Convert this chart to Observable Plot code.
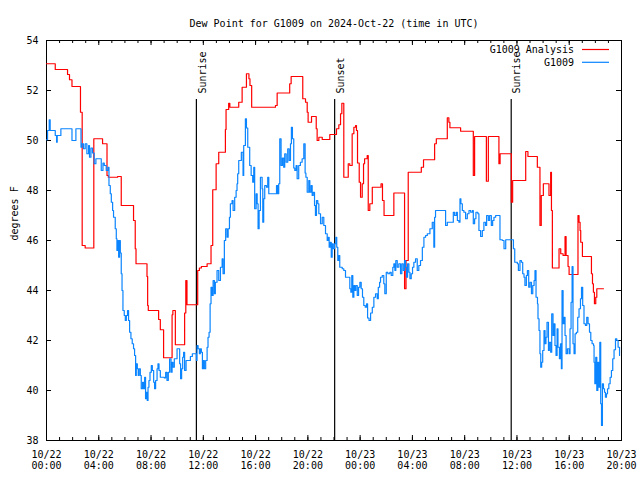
<!DOCTYPE html>
<html><head><meta charset="utf-8">
<script src="https://cdn.jsdelivr.net/npm/d3@7"></script>
<script src="https://cdn.jsdelivr.net/npm/@observablehq/plot@0.6"></script>
<style>body{margin:0;background:#fff} svg{display:block}</style>
</head><body><div id="chart"></div>
<script>
const title = "Dew Point for G1009 on 2024-Oct-22 (time in UTC)";
const yLabel = "degrees F";
const seriesNames = ["G1009 Analysis", "G1009"];
const seriesColors = ["#ff0000", "#0a84ff"];
const startUTC = Date.UTC(2024, 9, 22, 0, 0);
const endHour = 44;
const yTicks = [38, 40, 42, 44, 46, 48, 50, 52, 54];
const majorTickHours = [0, 4, 8, 12, 16, 20, 24, 28, 32, 36, 40, 44];
const minorTickHours = d3.range(0, 45);

// [hours since 2024-10-22 00:00 UTC, dew point F]
const analysis = [
[0,53.07],[0.67,52.84],[1.61,52.64],[1.76,52.43],[1.95,52.16],[2.60,51.13],[2.73,45.8],[2.96,45.7],
[3.62,50.07],[4.29,49.87],[4.63,48.6],[4.73,48.53],[5.44,48.56],[5.72,47.4],[6.66,46.8],[6.79,45.67],
[6.85,45.07],[7.69,44.56],[7.74,43.4],[7.79,43.2],[8.58,42.84],[8.71,42.43],[8.96,41.31],[9.61,43.03],
[9.67,43.2],[9.86,41.83],[10.57,43.1],[10.66,44.4],[10.75,43.43],[11.57,44.8],[11.70,44.9],[11.85,44.96],
[12.29,45.07],[12.59,45.8],[12.72,48.03],[12.98,49.07],[13.18,49.53],[13.69,50.44],[13.74,51.24],[13.94,51.49],
[14.03,51.33],[14.71,51.53],[14.97,52.13],[15.30,52.67],[15.49,52.47],[15.57,52.2],[15.70,51.33],[17.52,51.4],
[17.65,51.9],[18.61,52.27],[18.72,52.56],[19.61,51.67],[19.82,51.53],[19.95,51.13],[20.02,50.73],[20.28,50.96],
[20.64,50.47],[20.71,50.0],[20.84,50.13],[21.10,50.04],[21.68,50.24],[22.19,50.47],[22.37,50.63],[22.50,51.07],
[22.60,51.49],[22.75,48.53],[23.09,49.07],[23.21,49.0],[23.39,50.27],[23.52,50.53],[23.65,50.6],[23.72,50.4],
[23.80,49.1],[23.93,48.33],[24.03,47.73],[24.16,48.27],[24.26,49.07],[24.34,49.27],[24.54,49.4],[24.62,47.2],
[24.74,47.47],[24.93,48.13],[25.60,48.27],[25.71,47.6],[25.83,47.0],[26.58,47.9],[27.40,44.07],[27.51,45.2],
[27.68,48.73],[28.68,48.93],[28.85,49.23],[29.70,49.87],[29.83,50.07],[30.67,50.91],[30.79,50.73],[30.87,50.51],
[31.69,50.37],[32.66,48.6],[32.76,50.16],[33.66,48.37],[33.81,50.16],[34.62,49.07],[34.71,49.47],[35.57,47.53],
[35.67,48.4],[36.67,49.56],[36.84,49.36],[37.56,48.93],[37.76,46.6],[37.86,47.8],[38.02,48.27],[38.45,47.8],
[38.58,48.73],[38.64,47.2],[38.71,44.9],[39.22,45.67],[39.35,45.47],[39.53,45.4],[39.68,46.16],[39.76,45.4],
[39.91,44.96],[39.99,44.64],[40.67,47.0],[40.75,46.73],[40.83,46.4],[40.88,45.93],[41.01,45.36],[41.70,44.67],
[41.78,44.27],[41.85,43.93],[41.93,43.47],[42.03,43.73],[42.11,44.07],[42.62,44.07]
];

const observed = [
[0,50.03],[0.08,50.4],[0.21,50.83],[0.28,50.4],[0.67,50.2],[0.77,49.93],[0.82,50.2],[1.10,50.47],
[1.95,50.0],[2.25,50.47],[2.64,49.73],[2.71,49.87],[2.83,49.67],[2.96,49.87],[3.09,49.47],[3.22,49.8],
[3.29,49.33],[3.40,49.7],[3.52,49.5],[3.65,49.07],[3.78,49.27],[4.19,48.8],[4.32,49.1],[4.42,49.0],
[4.57,48.8],[4.70,48.93],[4.78,48.2],[4.88,47.87],[4.96,47.53],[5.06,47.2],[5.13,46.93],[5.26,46.47],
[5.34,46.07],[5.39,45.6],[5.47,46.0],[5.52,45.33],[5.59,46.0],[5.65,45.5],[5.72,44.67],[5.78,44.0],
[5.85,43.2],[5.95,43.0],[6.03,42.8],[6.11,43.0],[6.20,43.2],[6.28,42.8],[6.36,42.33],[6.46,42.07],
[6.56,41.87],[6.66,41.67],[6.74,41.4],[6.82,40.6],[6.87,41.07],[6.95,40.87],[7.02,40.6],[7.08,40.87],
[7.18,40.6],[7.25,40.07],[7.35,40.33],[7.43,40.07],[7.51,40.53],[7.58,39.67],[7.64,39.93],[7.71,39.6],
[7.77,40.13],[7.84,40.4],[7.92,40.73],[8.02,41.0],[8.10,40.8],[8.20,40.33],[8.27,40.07],[8.35,40.4],
[8.46,40.87],[8.53,41.07],[8.61,40.8],[8.71,40.53],[9.02,40.5],[9.12,40.73],[9.22,40.4],[9.32,40.73],
[9.42,41.27],[9.53,40.73],[9.61,41.13],[9.68,40.93],[9.78,41.27],[9.99,41.67],[10.19,41.07],[10.26,40.47],
[10.34,40.87],[10.42,41.33],[10.49,41.53],[10.57,40.8],[10.68,41.2],[11.01,41.36],[11.16,41.47],[11.47,41.2],
[11.52,41.8],[11.60,41.67],[11.70,41.47],[11.77,41.67],[11.85,41.53],[11.93,40.87],[12.00,41.2],[12.08,40.87],
[12.18,41.2],[12.29,41.73],[12.36,42.13],[12.44,42.33],[12.52,43.47],[12.59,44.13],[12.67,43.8],[12.75,44.4],
[12.85,43.87],[12.92,44.33],[13.05,44.8],[13.18,44.4],[13.31,44.93],[13.44,45.27],[13.51,44.67],[13.61,46.0],
[13.71,46.47],[13.82,46.13],[13.90,46.47],[14.00,46.93],[14.07,47.47],[14.20,47.6],[14.28,47.2],[14.40,47.73],
[14.51,48.0],[14.58,48.27],[14.63,48.67],[14.71,49.2],[14.91,49.53],[15.04,48.6],[15.09,49.8],[15.22,50.87],
[15.30,50.5],[15.40,49.73],[15.55,49.0],[15.66,48.6],[15.78,48.33],[15.86,48.93],[15.93,47.27],[16.04,47.87],
[16.12,47.47],[16.19,46.47],[16.27,47.2],[16.37,48.53],[16.50,48.07],[16.55,46.73],[16.62,47.67],[16.70,48.2],
[16.83,48.13],[16.93,48.53],[17.01,47.87],[17.60,48.2],[17.69,47.87],[17.77,48.27],[17.85,50.07],[17.95,49.0],
[18.05,49.3],[18.15,48.93],[18.23,49.47],[18.34,49.13],[18.46,49.67],[18.57,49.2],[18.67,49.87],[18.74,50.53],
[18.82,50.07],[18.92,48.9],[19.00,48.8],[19.10,49.0],[19.18,48.47],[19.30,49.0],[19.43,49.13],[19.56,49.27],
[19.69,49.87],[19.79,48.7],[19.85,48.53],[19.95,47.93],[20.07,48.4],[20.15,47.93],[20.25,48.2],[20.33,47.8],
[20.41,47.93],[20.51,47.4],[20.58,47.0],[20.66,47.6],[20.76,47.47],[20.84,47.07],[20.97,46.67],[21.10,46.93],
[21.22,46.6],[21.35,46.27],[21.48,46.0],[21.56,46.13],[21.63,45.73],[21.71,45.93],[21.79,45.33],[21.86,45.87],
[21.94,45.67],[22.04,45.87],[22.14,46.13],[22.21,45.73],[22.29,45.2],[22.37,45.4],[22.44,44.93],[22.63,44.87],
[22.75,44.8],[22.88,44.53],[23.21,44.07],[23.29,43.93],[23.36,44.6],[23.44,43.73],[23.52,44.2],[23.59,44.0],
[23.67,44.2],[23.78,43.8],[23.88,44.13],[23.98,44.33],[24.08,44.07],[24.18,43.73],[24.28,43.4],[24.39,43.33],
[24.49,43.47],[24.57,42.9],[24.68,42.8],[24.80,43.1],[24.93,43.33],[25.05,43.73],[25.18,43.87],[25.31,43.67],
[25.39,44.13],[25.49,44.33],[25.56,44.53],[25.69,44.6],[25.81,44.27],[25.89,43.87],[26.00,44.73],[26.12,44.67],
[26.27,44.73],[26.38,44.6],[26.50,44.93],[26.58,45.07],[26.66,44.8],[26.73,45.2],[26.84,44.93],[26.96,45.07],
[27.09,44.67],[27.19,45.07],[27.30,44.8],[27.40,45.2],[27.48,44.93],[27.55,44.53],[27.63,45.07],[27.73,44.73],
[27.81,44.47],[27.91,44.67],[28.01,44.93],[28.11,45.13],[28.24,45.27],[28.37,44.8],[28.49,45.0],[28.62,45.2],
[28.76,45.73],[28.88,46.13],[29.01,46.2],[29.14,46.27],[29.34,46.47],[29.52,46.73],[29.64,45.73],[29.70,46.93],
[29.77,47.2],[30.41,47.2],[30.54,46.6],[30.67,46.73],[31.13,47.13],[31.23,47.0],[31.36,47.13],[31.44,46.8],
[31.56,46.73],[31.64,47.67],[31.71,47.47],[31.82,47.2],[31.94,47.13],[32.07,46.87],[32.20,47.07],[32.33,47.2],
[32.46,47.13],[32.59,47.2],[32.66,46.67],[32.76,46.87],[32.86,47.13],[33.01,47.07],[33.09,46.4],[33.22,46.16],
[33.35,46.4],[33.47,46.73],[33.60,46.6],[33.68,47.0],[33.81,46.8],[33.91,47.0],[34.04,46.6],[34.14,46.8],
[34.24,46.93],[34.37,47.0],[34.70,46.03],[34.88,46.0],[35.01,45.67],[35.14,46.03],[35.73,45.67],[35.83,45.13],
[36.03,45.07],[36.11,44.8],[36.23,45.2],[36.34,45.13],[36.44,44.67],[36.54,44.53],[36.61,44.2],[36.72,44.6],
[36.80,44.8],[36.90,44.13],[37.00,44.33],[37.11,43.87],[37.21,44.2],[37.31,44.4],[37.38,44.8],[37.46,43.73],
[37.57,43.47],[37.61,42.87],[37.69,42.4],[37.76,41.47],[37.82,40.93],[37.89,41.13],[37.97,41.6],[38.07,42.4],
[38.15,41.87],[38.22,42.13],[38.30,42.73],[38.41,41.6],[38.48,41.93],[38.58,41.53],[38.66,43.07],[38.76,42.2],
[38.84,42.67],[38.91,41.8],[38.99,41.4],[39.07,42.47],[39.14,41.73],[39.25,41.27],[39.33,41.87],[39.40,40.87],
[39.45,44.0],[39.53,42.67],[39.60,42.93],[39.68,42.2],[39.76,41.47],[39.86,41.67],[39.99,41.47],[40.06,42.47],
[40.14,43.53],[40.22,44.96],[40.29,41.87],[40.37,41.47],[40.45,42.27],[40.55,42.33],[40.65,42.93],[40.75,43.27],
[40.86,43.67],[40.94,44.13],[41.03,43.4],[41.13,42.67],[41.24,42.6],[41.34,42.93],[41.44,42.67],[41.55,42.33],
[41.65,42.0],[41.75,41.87],[41.86,41.8],[41.90,41.13],[41.96,40.27],[42.03,41.33],[42.11,40.0],[42.19,41.13],
[42.26,40.13],[42.34,41.93],[42.41,39.47],[42.47,38.6],[42.54,40.27],[42.62,40.07],[42.70,39.93],[42.77,39.73],
[42.85,39.87],[42.93,40.07],[43.03,40.27],[43.13,40.53],[43.23,40.8],[43.33,41.27],[43.43,41.63],[43.54,42.07],
[43.64,42.0],[43.74,41.73],[43.85,41.4]
];

const sunEvents = [
  {label: "Sunrise", hour: 11.47},
  {label: "Sunset", hour: 22.05},
  {label: "Sunrise", hour: 35.56}
];

const W = 640, H = 480, mL = 46, mR = 19, mT = 40, mB = 40;
const innerW = W - mL - mR, innerH = H - mT - mB;
const toDate = h => new Date(startUTC + h * 3600e3);
const pad = n => String(n).padStart(2, "0");
const fmt = d => `${pad(d.getUTCMonth() + 1)}/${pad(d.getUTCDate())}\n${pad(d.getUTCHours())}:${pad(d.getUTCMinutes())}`;
const majorDates = majorTickHours.map(toDate);
const minorDates = minorTickHours.map(toDate);

const svg = Plot.plot({
  width: W, height: H,
  marginLeft: mL, marginRight: mR, marginTop: mT, marginBottom: mB,
  style: {fontFamily: "'DejaVu Sans Mono', monospace", fontSize: "10px", background: "#fff", color: "#000"},
  x: {type: "utc", domain: [toDate(0), toDate(endHour)]},
  y: {domain: [38, 54]},
  marks: [
    Plot.frame({stroke: "#000"}),
    Plot.axisX({ticks: majorDates, tickFormat: fmt, tickSize: 0, tickPadding: 10, lineHeight: 1.1, label: null}),
    Plot.axisY({ticks: yTicks, tickFormat: d => String(d), tickSize: 0, tickPadding: 8, label: null}),
    Plot.tickX(minorDates, {x: d => d, insetTop: innerH - 3, stroke: "#000"}),
    Plot.tickX(minorDates, {x: d => d, insetBottom: innerH - 3, stroke: "#000"}),
    Plot.tickX(majorDates, {x: d => d, insetTop: innerH - 5, stroke: "#000"}),
    Plot.tickX(majorDates, {x: d => d, insetBottom: innerH - 5, stroke: "#000"}),
    Plot.tickY(yTicks, {y: d => d, insetRight: innerW - 5, stroke: "#000"}),
    Plot.tickY(yTicks, {y: d => d, insetLeft: innerW - 5, stroke: "#000"}),
    Plot.ruleX(sunEvents, {x: d => toDate(d.hour), insetTop: 59, stroke: "#000", strokeWidth: 1.2}),
    Plot.text(sunEvents, {x: d => toDate(d.hour), text: "label", frameAnchor: "top", dy: 53, dx: 2, rotate: -90, textAnchor: "start", fill: "#000"}),
    Plot.line(analysis, {x: d => toDate(d[0]), y: d => d[1], stroke: seriesColors[0], strokeWidth: 1.2, curve: "step-after"}),
    Plot.line(observed, {x: d => toDate(d[0]), y: d => d[1], stroke: seriesColors[1], strokeWidth: 1.2, curve: "step-after"}),
    Plot.text([title], {text: d => d, frameAnchor: "top", dy: -21, fill: "#000"}),
    Plot.text([yLabel], {text: d => d, frameAnchor: "left", dx: -32, rotate: -90, fill: "#000"})
  ]
});

// legend (inside top-right of the frame)
const g = d3.select(svg).append("g").attr("font-family", "'DejaVu Sans Mono', monospace").attr("font-size", 10);
const xr = W - mR;
seriesNames.forEach((name, i) => {
  const y = mT + 9.5 + i * 12.8;
  g.append("text").attr("x", xr - 47).attr("y", y).attr("dy", "0.32em").attr("text-anchor", "end").attr("fill", "#000").text(name);
  g.append("line").attr("x1", xr - 39).attr("x2", xr - 12).attr("y1", y).attr("y2", y).attr("stroke", seriesColors[i]).attr("stroke-width", 1.2);
});

document.getElementById("chart").appendChild(svg);
</script>
</body></html>
